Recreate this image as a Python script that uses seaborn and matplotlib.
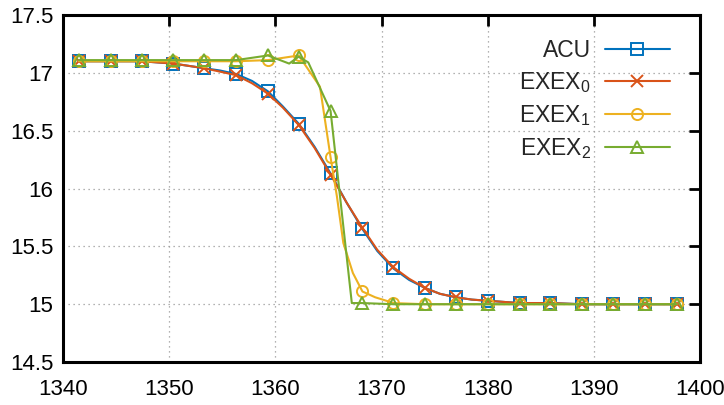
import pandas as pd
import seaborn as sns
import matplotlib.pyplot as plt
from matplotlib.lines import Line2D

# marker positions
x_mark = [1341.5, 1344.5, 1347.4, 1350.4, 1353.3, 1356.3, 1359.3, 1362.2, 1365.2, 1368.2,
          1371.1, 1374.1, 1377.0, 1380.0, 1383.0, 1385.9, 1388.9, 1391.8, 1394.8, 1397.8]
acu = [17.10, 17.10, 17.10, 17.08, 17.04, 16.99, 16.84, 16.56, 16.13, 15.65,
       15.31, 15.14, 15.06, 15.03, 15.01, 15.01, 15.00, 15.00, 15.00, 15.00]
exex0 = [17.10, 17.10, 17.10, 17.08, 17.04, 16.98, 16.82, 16.55, 16.12, 15.66,
         15.32, 15.14, 15.06, 15.03, 15.01, 15.01, 15.00, 15.00, 15.00, 15.00]
exex1 = [17.10, 17.10, 17.10, 17.10, 17.10, 17.10, 17.11, 17.15, 16.27, 15.11,
         15.01, 15.00, 15.00, 15.00, 15.00, 15.00, 15.00, 15.00, 15.00, 15.00]
exex2 = [17.11, 17.11, 17.11, 17.11, 17.11, 17.11, 17.15, 17.14, 16.67, 15.01,
         15.00, 15.00, 15.00, 15.00, 15.00, 15.00, 15.00, 15.00, 15.00, 15.00]

# extra points on the curves between markers
x_extra0 = [1354.8, 1357.8, 1360.7, 1363.7, 1366.7, 1369.6, 1372.6, 1375.5, 1378.5]
y_extra_acu = [17.02, 16.93, 16.71, 16.36, 15.88, 15.46, 15.21, 15.09, 15.04]
y_extra_ex0 = [17.01, 16.91, 16.70, 16.35, 15.88, 15.47, 15.22, 15.09, 15.04]
x_extra1 = [1364.2, 1365.8, 1366.4, 1367.3, 1369.4, 1370.8]
y_extra1 = [16.88, 15.93, 15.53, 15.27, 15.06, 15.02]
x_extra2 = [1361.3, 1363.1, 1367.2]
y_extra2 = [17.08, 17.09, 15.01]

labels = ['ACU', r'EXEX$_\mathregular{0}$', r'EXEX$_\mathregular{1}$', r'EXEX$_\mathregular{2}$']
colors = ['#0072bd', '#d95319', '#edb120', '#77ac30']
markers = ['s', 'x', 'o', '^']

sns.set_style('white')
plt.rcParams['font.family'] = ['Liberation Sans', 'DejaVu Sans']
plt.rcParams['mathtext.fontset'] = 'custom'
plt.rcParams['mathtext.rm'] = 'Liberation Sans'

fig = plt.figure(figsize=(7.24, 4.05), dpi=100)
ax = fig.add_axes([0.087, 0.106, 0.88, 0.857])

series = [
    (x_mark + x_extra0, acu + y_extra_acu),
    (x_mark + x_extra0, exex0 + y_extra_ex0),
    (x_mark + x_extra1, exex1 + y_extra1),
    (x_mark + x_extra2, exex2 + y_extra2),
]
marks = [acu, exex0, exex1, exex2]

handles = []
for (xs, ys), ym, lab, c, m in zip(series, marks, labels, colors, markers):
    df = pd.DataFrame({'x': xs, 'y': ys}).sort_values('x')
    sns.lineplot(data=df, x='x', y='y', ax=ax, color=c, lw=1.5, sort=False, legend=False)
    ax.plot(x_mark, ym, ls='none', marker=m, ms=8, mfc='none', mec=c, mew=1.4)
    handles.append(Line2D([], [], color=c, lw=1.5, marker=m, ms=8, mfc='none', mec=c, mew=1.4))

ax.set_xlim(1340, 1400)
ax.set_ylim(14.5, 17.5)
ax.set_xticks(range(1340, 1401, 10))
ax.set_yticks([14.5, 15, 15.5, 16, 16.5, 17, 17.5])
ax.set_yticklabels(['14.5', '15', '15.5', '16', '16.5', '17', '17.5'])
ax.set_xlabel('')
ax.set_ylabel('')
ax.grid(True, color='#999999', ls=(0, (1, 3)), lw=0.9)
for s in ax.spines.values():
    s.set_linewidth(2.2)
    s.set_color('black')
ax.tick_params(direction='in', length=8, width=2, labelsize=16, pad=7,
               top=True, right=True, colors='black')
ax.tick_params(axis='x', pad=12)

leg = ax.legend(handles, labels, loc='upper right', frameon=False, markerfirst=False,
                fontsize=16.5, handlelength=2.85, labelspacing=0.35, handletextpad=0.6,
                bbox_to_anchor=(0.985, 0.99))

fig.savefig('out.png', dpi=100)
